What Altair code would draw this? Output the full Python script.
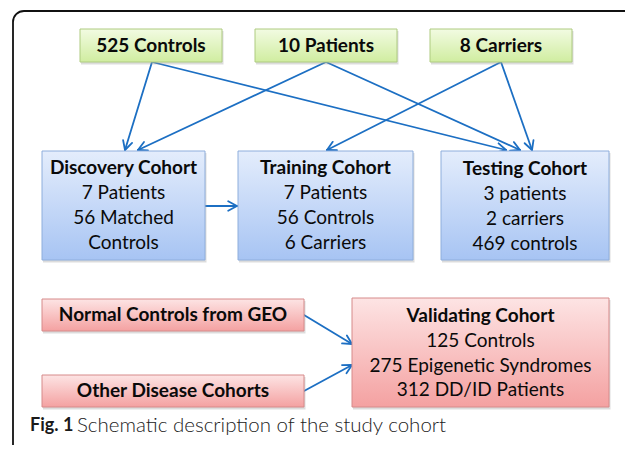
import altair as alt
import pandas as pd
import numpy as np

# ---------------- data ----------------
source_labels = ["525 Controls", "10 Patients", "8 Carriers"]
cohort_titles = ["Discovery Cohort", "Training Cohort", "Testing Cohort"]
cohort_lines = [
    ["7 Patients", "56 Matched", "Controls"],
    ["7 Patients", "56 Controls", "6 Carriers"],
    ["3 patients", "2 carriers", "469 controls"],
]
external_labels = ["Normal Controls from GEO", "Other Disease Cohorts"]
validating_title = "Validating Cohort"
validating_lines = ["125 Controls", "275 Epigenetic Syndromes", "312 DD/ID Patients"]
caption_bold = "Fig. 1"
caption_text = "Schematic description of the study cohort"

# ---------------- layout (pixel positions of the schematic) ----------------
green_boxes = [(80, 222, 29, 62), (255, 397, 29, 62), (430, 572, 29, 62)]
blue_boxes = [(42, 205, 151, 260), (238, 413, 151, 260), (441, 609, 151, 260)]
red_boxes = [(42, 304, 299, 331), (42, 304, 375, 407)]
valid_box = (352, 609, 298, 407)
cohort_text_y = [[168, 193, 218, 243], [168, 193, 218, 243], [169, 194, 219, 244]]
valid_text_y = [316, 341, 366, 390]

arrows = [
    (152, 62, 125, 150),
    (152, 62, 506, 150),
    (326, 62, 138, 150),
    (326, 62, 520, 150),
    (501, 62, 327, 150),
    (501, 62, 532, 150),
    (205, 206, 237, 206),
    (304, 315, 352, 344),
    (304, 391, 352, 365),
]

W, H = 617, 437
xs = alt.Scale(domain=[8, 8 + W], nice=False, zero=False)
ys = alt.Scale(domain=[8, 8 + H], nice=False, zero=False, reverse=True)

FONT = "Lato"


def grad(top, bottom):
    return alt.Gradient(
        gradient="linear",
        stops=[alt.GradientStop(color=top, offset=0), alt.GradientStop(color=bottom, offset=1)],
        x1=0, x2=0, y1=0, y2=1,
    )


def box_df(boxes):
    return pd.DataFrame(boxes, columns=["x1", "x2", "y1", "y2"])


def enc_rect(ch):
    return ch.encode(
        x=alt.X("x1:Q", scale=xs, axis=None),
        x2="x2:Q",
        y=alt.Y("y1:Q", scale=ys, axis=None),
        y2="y2:Q",
    )


all_boxes = green_boxes + blue_boxes + red_boxes + [valid_box]
shadow_df = box_df(all_boxes)
shadow_df["x1"] += 1
shadow_df["x2"] += 1.5
shadow_df["y1"] += 2
shadow_df["y2"] += 2.5
shadow = enc_rect(alt.Chart(shadow_df).mark_rect(fill="#9a9a9a", opacity=0.35))

green = enc_rect(alt.Chart(box_df(green_boxes)).mark_rect(
    fill=grad("#f2fbe2", "#d0eda0"), stroke="#aecb80", strokeWidth=1))
blue = enc_rect(alt.Chart(box_df(blue_boxes)).mark_rect(
    fill=grad("#e4edfc", "#a7c4f3"), stroke="#8eaedc", strokeWidth=1))
red = enc_rect(alt.Chart(box_df(red_boxes + [valid_box])).mark_rect(
    fill=grad("#fde4e4", "#f4a1a1"), stroke="#d68a8a", strokeWidth=1))

frame = alt.Chart(pd.DataFrame({"x1": [13], "x2": [680], "y1": [11], "y2": [520]})).mark_rect(
    fill=None, stroke="#111111", strokeWidth=1.8, cornerRadius=11)
frame = enc_rect(frame)

# arrows: shaft + two head strokes
segs = []
for (x0, y0, x1, y1) in arrows:
    segs.append((x0, y0, x1, y1))
    ang = np.arctan2(y0 - y1, x0 - x1)
    for d in (np.radians(28), -np.radians(28)):
        segs.append((x1, y1, x1 + 10 * np.cos(ang + d), y1 + 10 * np.sin(ang + d)))
seg_df = pd.DataFrame(segs, columns=["x1", "y1", "x2", "y2"])
arrow_layer = alt.Chart(seg_df).mark_rule(color="#1c6fc3", strokeWidth=1.8, strokeCap="round").encode(
    x=alt.X("x1:Q", scale=xs, axis=None),
    y=alt.Y("y1:Q", scale=ys, axis=None),
    x2="x2:Q",
    y2="y2:Q",
)

# text rows
rows = []
for lab, (a, b, c, d) in zip(source_labels, green_boxes):
    rows.append(dict(t=lab, x=(a + b) / 2, y=(c + d) / 2 + 0.5, w="bold"))
for title, lines, (a, b, c, d), yy in zip(cohort_titles, cohort_lines, blue_boxes, cohort_text_y):
    cx = (a + b) / 2
    rows.append(dict(t=title, x=cx, y=yy[0], w="bold"))
    for ln, y in zip(lines, yy[1:]):
        rows.append(dict(t=ln, x=cx, y=y, w="normal"))
for lab, (a, b, c, d) in zip(external_labels, red_boxes):
    rows.append(dict(t=lab, x=(a + b) / 2, y=(c + d) / 2, w="bold"))
cx = (valid_box[0] + valid_box[1]) / 2
rows.append(dict(t=validating_title, x=cx, y=valid_text_y[0], w="bold"))
for ln, y in zip(validating_lines, valid_text_y[1:]):
    rows.append(dict(t=ln, x=cx, y=y, w="normal"))
tdf = pd.DataFrame(rows)


def text_layer(df, weight):
    return alt.Chart(df).mark_text(
        font=FONT, fontSize=19, fontWeight=weight, color="#0a0a0a", baseline="middle", align="center"
    ).encode(
        x=alt.X("x:Q", scale=xs, axis=None),
        y=alt.Y("y:Q", scale=ys, axis=None),
        text="t:N",
    )


bold_text = text_layer(tdf[tdf.w == "bold"], "bold")
norm_text = text_layer(tdf[tdf.w == "normal"], "normal")

cap1 = alt.Chart(pd.DataFrame({"t": [caption_bold], "x": [30], "y": [426]})).mark_text(
    font=FONT, fontSize=18, fontWeight="bold", color="#1a1a1a", align="left", baseline="middle"
).encode(x=alt.X("x:Q", scale=xs, axis=None), y=alt.Y("y:Q", scale=ys, axis=None), text="t:N")
cap2 = alt.Chart(pd.DataFrame({"t": [caption_text], "x": [77], "y": [426]})).mark_text(
    font=FONT, fontSize=20.5, fontWeight=300, color="#222222", align="left", baseline="middle"
).encode(x=alt.X("x:Q", scale=xs, axis=None), y=alt.Y("y:Q", scale=ys, axis=None), text="t:N")

chart = alt.layer(
    frame, arrow_layer, shadow, green, blue, red, bold_text, norm_text, cap1, cap2
).properties(
    width=W, height=H, padding=0, autosize=alt.AutoSizeParams(type="none"), background="white"
).configure_view(stroke=None)

chart.save("out.html", embed_options={"renderer": "svg", "actions": False})
